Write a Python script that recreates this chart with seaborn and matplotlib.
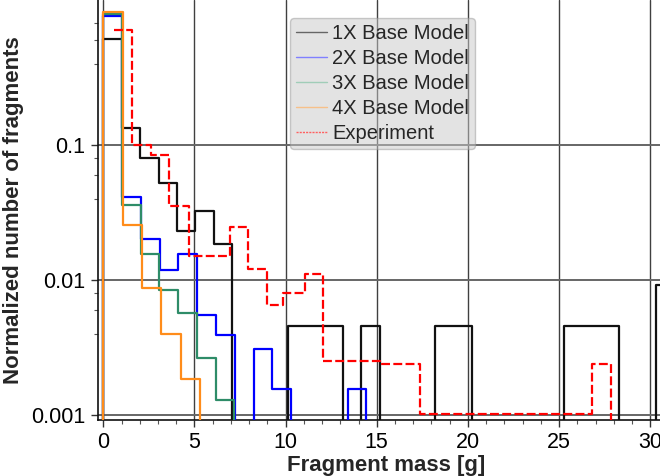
import numpy as np
import pandas as pd
import matplotlib
matplotlib.use("Agg")
import matplotlib.pyplot as plt
from matplotlib.lines import Line2D
from matplotlib.ticker import LogLocator, FixedLocator, MultipleLocator, NullFormatter
import seaborn as sns

# ---------------- data ----------------
labels = ["1X Base Model", "2X Base Model", "3X Base Model", "4X Base Model", "Experiment"]

# histogram bin widths of the model series [g]
bw_1x = 1.011
bw_2x = 1.031
bw_3x = 1.026
bw_4x = 1.064

vals_1x = [0.61, 0.134, 0.080, 0.052, 0.023, 0.0325, 0.0185, 0, 0, 0,
           0.00458, 0.00458, 0.00458, 0, 0.00458, 0, 0, 0, 0.00458, 0.00458,
           0, 0, 0, 0, 0, 0.00458, 0.00458, 0.00458, 0, 0, 0.0092]
vals_2x = [0.91, 0.041, 0.020, 0.0118, 0.0156, 0.0055, 0.0039, 0, 0.0031, 0.00156,
           0, 0, 0, 0.00156]
vals_3x = [0.94, 0.036, 0.0155, 0.0084, 0.0057, 0.00263, 0.0013]
vals_4x = [0.97, 0.0255, 0.0087, 0.0040, 0.00185]

exp_edges = [0.57, 1.60, 2.61, 3.62, 4.72, 6.97, 7.92, 8.99, 9.84, 11.06,
             12.07, 15.2, 17.37, 26.8, 27.85]
exp_vals = [0.71, 0.10, 0.085, 0.0353, 0.0151, 0.0248, 0.012, 0.0065, 0.008,
            0.0111, 0.0025, 0.0024, 0.00101, 0.0024]

colors = ["#111111", "#0000ff", "#2e8c68", "#ff8c1a", "#ff0000"]
legend_colors = ["#666666", "#8080ff", "#a0cdb8", "#f7c08a", "#ff6060"]


def model_frame(vals, bw):
    n = len(vals)
    edges = np.arange(n + 1) * bw
    x = np.concatenate([[edges[0]], edges])
    y = np.concatenate([[0.0], vals, [0.0]])
    return pd.DataFrame({"x": x, "y": y})


def exp_frame(edges, vals):
    x = np.asarray(edges, dtype=float)
    y = np.concatenate([vals, [0.0]])
    return pd.DataFrame({"x": x, "y": y})


frames = [model_frame(vals_1x, bw_1x), model_frame(vals_2x, bw_2x),
          model_frame(vals_3x, bw_3x), model_frame(vals_4x, bw_4x),
          exp_frame(exp_edges, exp_vals)]

# ---------------- figure ----------------
sns.set_theme(style="white")
plt.rcParams["font.family"] = ["Liberation Sans", "DejaVu Sans"]

W, H = 660, 476
fig = plt.figure(figsize=(W / 100, H / 100), dpi=100)
ax_left, ax_bottom, ax_top = 98, 420, 0
x0px, ppu = 103.3, 18.23
xmin = (ax_left - x0px) / ppu
xmax = 31.3
ax_right = x0px + xmax * ppu
ax = fig.add_axes([ax_left / W, (H - ax_bottom) / H,
                   (ax_right - ax_left) / W, (ax_bottom - ax_top) / H])

for i, df in enumerate(frames):
    ls = (0, (4, 1.5)) if i == 4 else "-"
    sns.lineplot(data=df, x="x", y="y", ax=ax, drawstyle="steps-post",
                 estimator=None, sort=False, color=colors[i], lw=1.6,
                 linestyle=ls, legend=False, zorder=3 + i)

ax.set_yscale("log")
ytop = 10 ** (-1 + (145 - ax_top) / 135)
ybot = 10 ** (-3 - (ax_bottom - 415) / 135)
ax.set_ylim(ybot, ytop)
ax.set_xlim(xmin, xmax)

ax.yaxis.set_major_locator(FixedLocator([0.001, 0.01, 0.1]))
ax.yaxis.set_minor_locator(LogLocator(base=10, subs=(4.0, 6.0, 8.0)))
ax.yaxis.set_minor_formatter(NullFormatter())
ax.set_yticklabels(["0.001", "0.01", "0.1"])
ax.xaxis.set_major_locator(MultipleLocator(5))
ax.xaxis.set_minor_locator(MultipleLocator(1))

ax.tick_params(axis="both", which="major", direction="out", length=5, width=1,
               color="#333333", labelsize=15.5, labelcolor="black", pad=4,
               bottom=True, left=True)
ax.tick_params(axis="both", which="minor", direction="out", length=3, width=0.8,
               color="#555555", bottom=True, left=True)

ax.grid(True, which="major", axis="x", color="#404040", lw=1.0, zorder=1)
ax.grid(True, which="major", axis="y", color="#666666", lw=1.4, zorder=1)
ax.set_axisbelow(True)

for s in ["top", "right"]:
    ax.spines[s].set_visible(False)
for s in ["left", "bottom"]:
    ax.spines[s].set_color("#111111")
    ax.spines[s].set_linewidth(1.2)

ax.set_xlabel("Fragment mass [g]", fontsize=16, fontweight="bold", labelpad=1)
ax.set_ylabel("Normalized number of fragments", fontsize=16, fontweight="bold", labelpad=5)

handles = []
for i in range(5):
    ls = (0, (1.5, 0.8)) if i == 4 else "-"
    handles.append(Line2D([], [], color=legend_colors[i], lw=1.0, linestyle=ls))
leg = ax.legend(handles, labels, loc="upper left",
                bbox_to_anchor=((290 - ax_left) / (ax_right - ax_left),
                                (ax_bottom - 18) / (ax_bottom - ax_top)),
                borderaxespad=0, fontsize=14.5, frameon=True, fancybox=True,
                handlelength=1.55, handletextpad=0.25, labelspacing=0.3,
                borderpad=0.3)
frame = leg.get_frame()
frame.set_facecolor("#c8c8c8")
frame.set_alpha(0.5)
frame.set_edgecolor("#999999")
frame.set_linewidth(1.0)
leg.set_zorder(20)

fig.savefig("out.png", dpi=100)
